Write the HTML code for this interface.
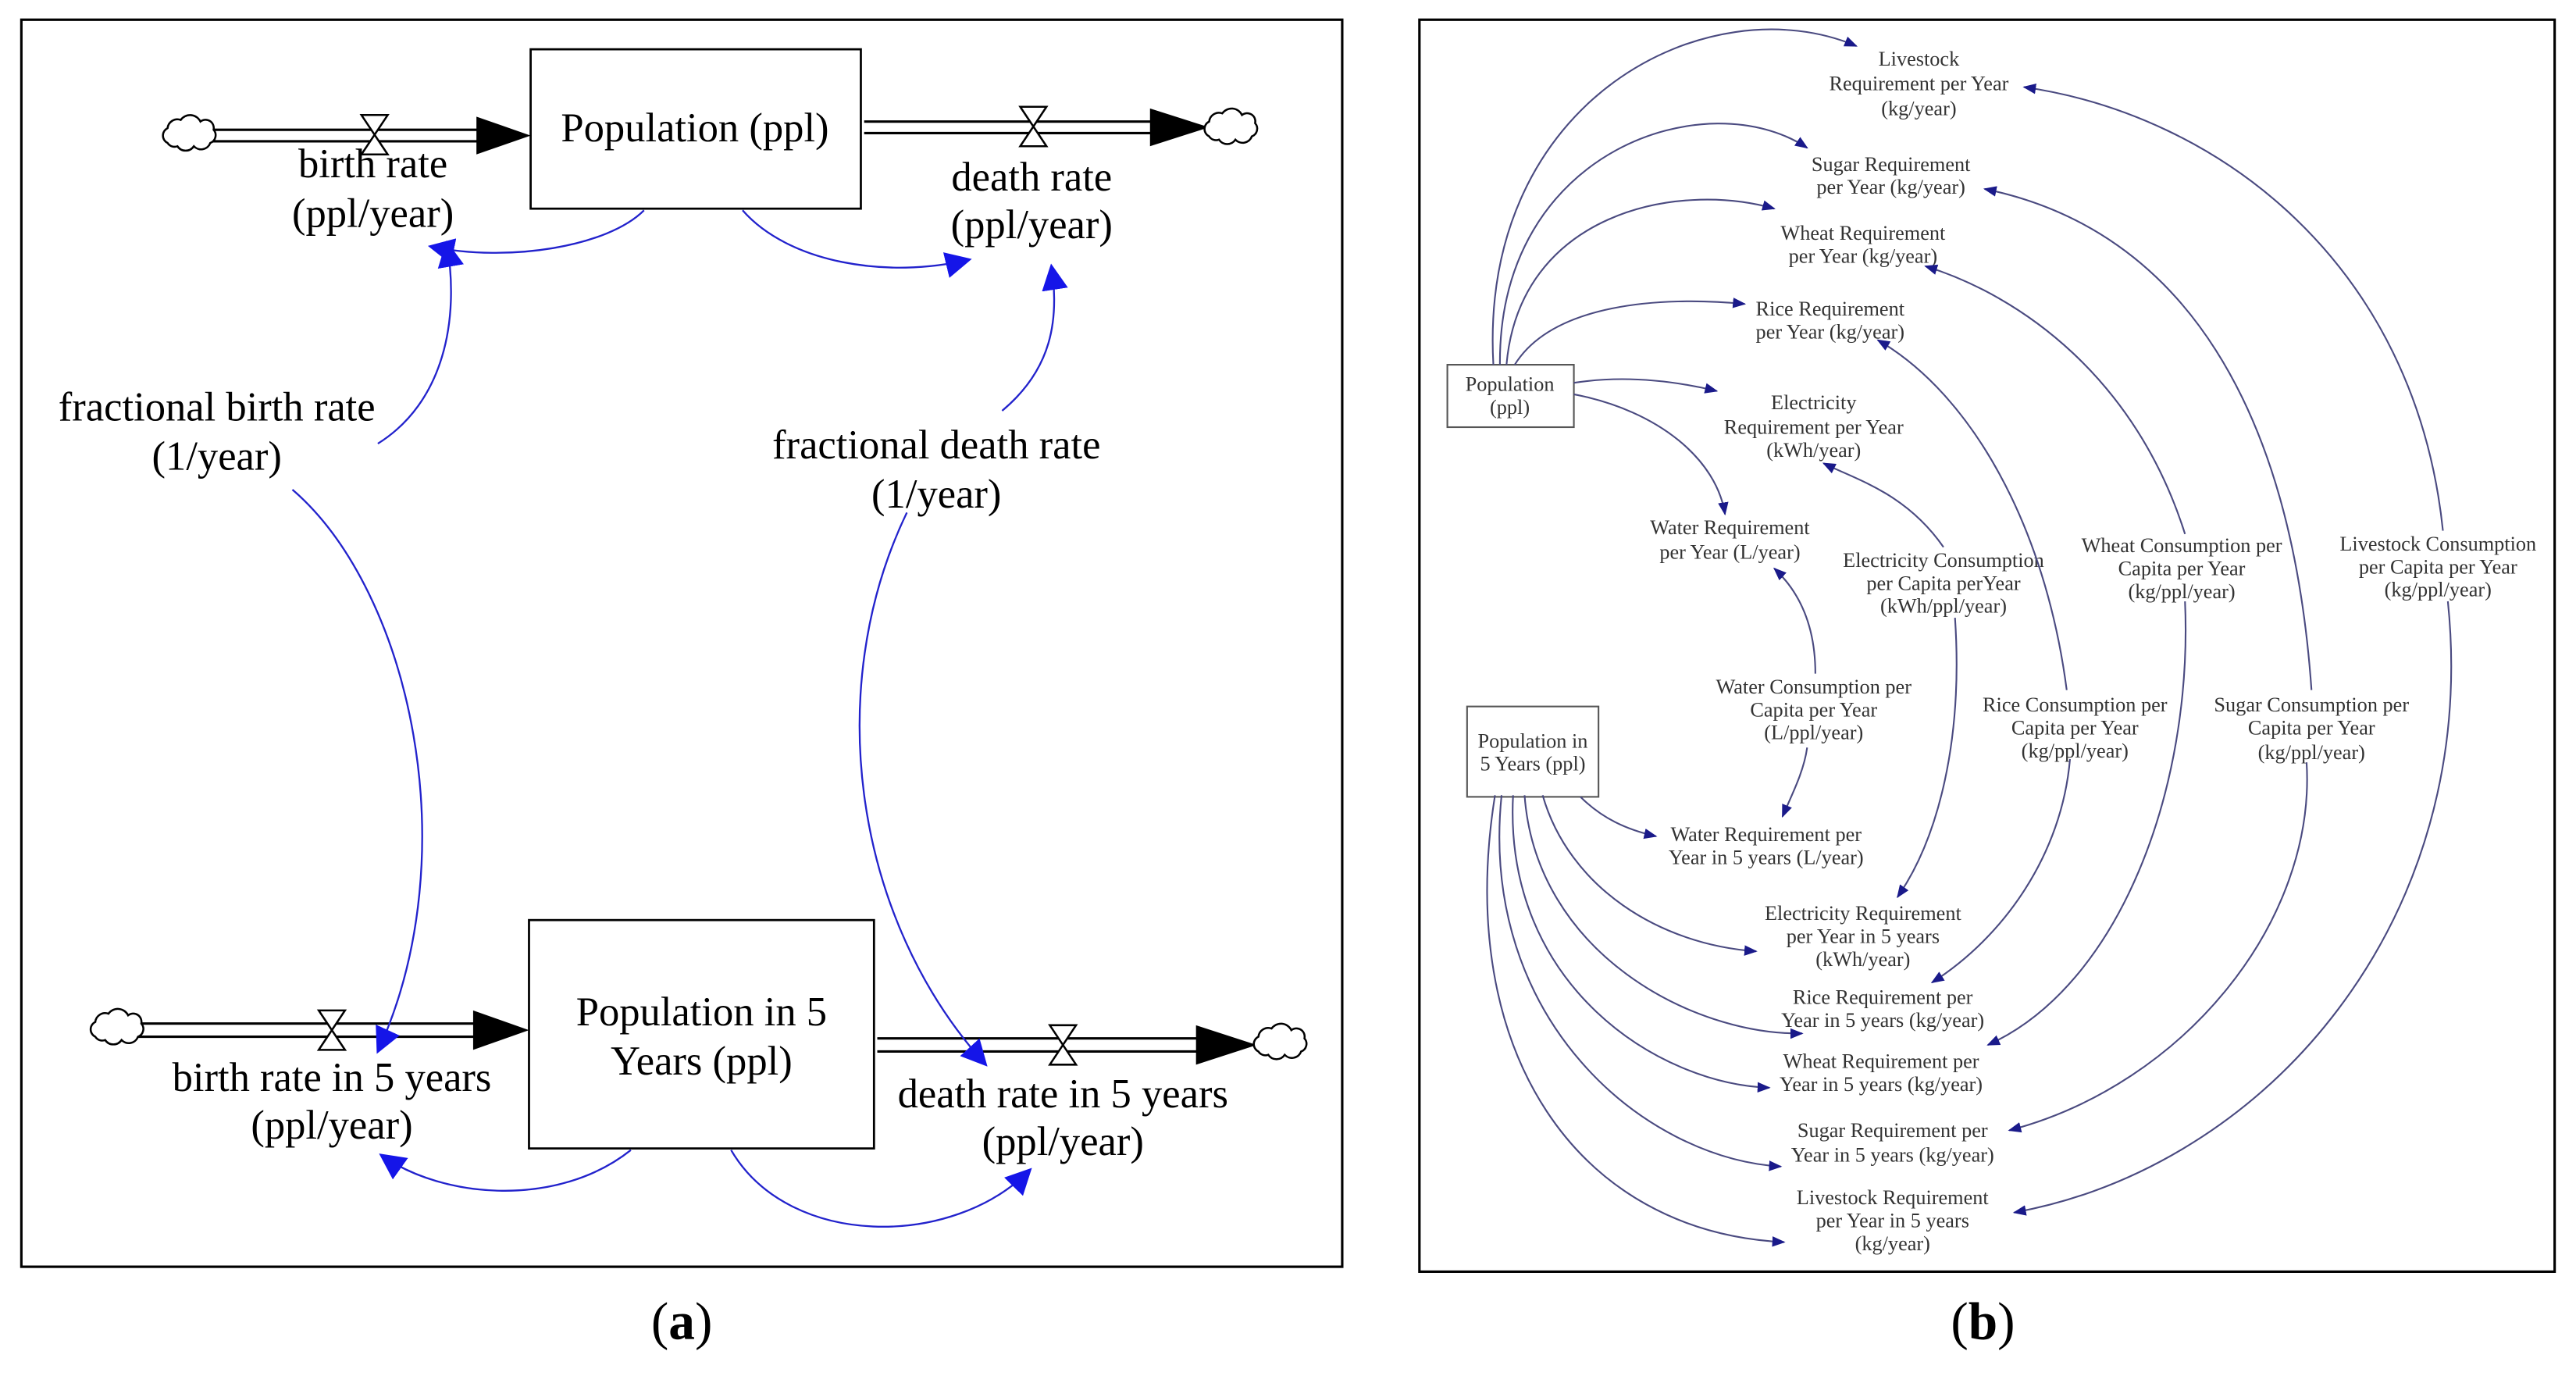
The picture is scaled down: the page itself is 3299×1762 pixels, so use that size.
<!DOCTYPE html>
<html><head><meta charset="utf-8"><style>
html,body{margin:0;padding:0;background:#fff;}
svg{display:block;}
</style></head><body>
<svg width="3299" height="1762" viewBox="0 0 1568 837.5" preserveAspectRatio="none" xmlns="http://www.w3.org/2000/svg" font-family="Liberation Serif, serif">
<defs>
<marker id="ab" viewBox="0 0 10 10" refX="9" refY="5" markerWidth="16" markerHeight="16" markerUnits="userSpaceOnUse" orient="auto"><path d="M0,0 L10,5 L0,10 z" fill="#1515e8"/></marker>
<marker id="an" viewBox="0 0 10 10" refX="9" refY="5" markerWidth="8" markerHeight="8" markerUnits="userSpaceOnUse" orient="auto"><path d="M0,1 L10,5 L0,9 z" fill="#1a1a8a"/></marker>
<g id="cloud"><path d="M-14,4 a5,5 0 0 1 0,-9 a6,6 0 0 1 8,-5 a7,7 0 0 1 12,1 a5,5 0 0 1 8,5 a5,5 0 0 1 -2,8 a6,6 0 0 1 -10,2 a6,6 0 0 1 -10,0 a5,5 0 0 1 -6,-2z" fill="#fff" stroke="#000" stroke-width="1.2"/></g>
<g id="valve"><path d="M-8,-12 L8,-12 L-8,12 L8,12 Z" fill="#fff" stroke="#000" stroke-width="1.2"/></g>
</defs>
<rect width="1568" height="837.5" fill="#fff"/>

<!-- Panel a -->
<rect x="13" y="12" width="804" height="759" fill="none" stroke="#000" stroke-width="1.5"/>
<rect x="323" y="30" width="201" height="97" fill="#fff" stroke="#000" stroke-width="1.3"/>
<rect x="322" y="560" width="210" height="139" fill="#fff" stroke="#000" stroke-width="1.3"/>
<g font-size="25" text-anchor="middle" fill="#000">
<text x="423" y="86">Population (ppl)</text>
<text x="427" y="624">Population in 5</text>
<text x="427" y="654">Years (ppl)</text>
</g>
<g stroke="#000" stroke-width="1.5">
<line x1="128" y1="79" x2="292" y2="79"/><line x1="128" y1="86" x2="292" y2="86"/>
<line x1="526" y1="74" x2="702" y2="74"/><line x1="526" y1="81" x2="702" y2="81"/>
<line x1="84" y1="623" x2="290" y2="623"/><line x1="84" y1="631" x2="290" y2="631"/>
<line x1="534" y1="632" x2="730" y2="632"/><line x1="534" y1="640" x2="730" y2="640"/>
</g>
<path d="M290,71 L323,82.5 L290,94Z" fill="#000"/>
<path d="M700,66 L736,77.5 L700,89Z" fill="#000"/>
<path d="M288,615 L322,627 L288,639Z" fill="#000"/>
<path d="M728,624 L765,636 L728,648Z" fill="#000"/>
<use href="#cloud" x="116" y="83"/>
<use href="#cloud" x="750" y="79"/>
<use href="#cloud" x="72" y="627"/>
<use href="#cloud" x="780" y="636"/>
<use href="#valve" x="228" y="82"/>
<use href="#valve" x="629" y="77"/>
<use href="#valve" x="202" y="627"/>
<use href="#valve" x="647" y="636"/>
<g font-size="25" text-anchor="middle" fill="#000">
<text x="227" y="108">birth rate</text><text x="227" y="138">(ppl/year)</text>
<text x="628" y="116">death rate</text><text x="628" y="145">(ppl/year)</text>
<text x="132" y="256">fractional birth rate</text><text x="132" y="286">(1/year)</text>
<text x="570" y="279">fractional death rate</text><text x="570" y="309">(1/year)</text>
<text x="202" y="664">birth rate in 5 years</text><text x="202" y="693">(ppl/year)</text>
<text x="647" y="674">death rate in 5 years</text><text x="647" y="703">(ppl/year)</text>
</g>
<g fill="none" stroke="#2222cc" stroke-width="1.1" marker-end="url(#ab)">
<path d="M392,128 C370,150 310,160 262,150"/>
<path d="M452,128 C480,160 540,170 590,158"/>
<path d="M230,270 C270,245 280,195 272,148"/>
<path d="M610,250 C640,225 645,195 640,162"/>
<path d="M178,298 C250,360 285,520 230,640"/>
<path d="M552,312 C500,420 520,560 600,648"/>
<path d="M384,700 C340,735 270,730 232,703"/>
<path d="M445,700 C480,760 580,760 627,712"/>
</g>
<text x="415" y="815" font-size="32" text-anchor="middle">(<tspan font-weight="bold">a</tspan>)</text>

<!-- Panel b -->
<rect x="864" y="12" width="691" height="762" fill="none" stroke="#000" stroke-width="1.5"/>
<rect x="881" y="222" width="77" height="38" fill="#fff" stroke="#555" stroke-width="1"/>
<rect x="893" y="430" width="80" height="55" fill="#fff" stroke="#555" stroke-width="1"/>
<g font-size="12.5" text-anchor="middle" fill="#333">
<text x="919" y="238">Population</text><text x="919" y="252">(ppl)</text>
<text x="933" y="455">Population in</text><text x="933" y="469">5 Years (ppl)</text>
<text x="1168" y="40">Livestock</text><text x="1168" y="55">Requirement per Year</text><text x="1168" y="70">(kg/year)</text>
<text x="1151" y="104">Sugar Requirement</text><text x="1151" y="118">per Year (kg/year)</text>
<text x="1134" y="146">Wheat Requirement</text><text x="1134" y="160">per Year (kg/year)</text>
<text x="1114" y="192">Rice Requirement</text><text x="1114" y="206">per Year (kg/year)</text>
<text x="1104" y="249">Electricity</text><text x="1104" y="264">Requirement per Year</text><text x="1104" y="278">(kWh/year)</text>
<text x="1053" y="325">Water Requirement</text><text x="1053" y="340">per Year (L/year)</text>
<text x="1183" y="345">Electricity Consumption</text><text x="1183" y="359">per Capita perYear</text><text x="1183" y="373">(kWh/ppl/year)</text>
<text x="1328" y="336">Wheat Consumption per</text><text x="1328" y="350">Capita per Year</text><text x="1328" y="364">(kg/ppl/year)</text>
<text x="1484" y="335">Livestock Consumption</text><text x="1484" y="349">per Capita per Year</text><text x="1484" y="363">(kg/ppl/year)</text>
<text x="1104" y="422">Water Consumption per</text><text x="1104" y="436">Capita per Year</text><text x="1104" y="450">(L/ppl/year)</text>
<text x="1263" y="433">Rice Consumption per</text><text x="1263" y="447">Capita per Year</text><text x="1263" y="461">(kg/ppl/year)</text>
<text x="1407" y="433">Sugar Consumption per</text><text x="1407" y="447">Capita per Year</text><text x="1407" y="462">(kg/ppl/year)</text>
<text x="1075" y="512">Water Requirement per</text><text x="1075" y="526">Year in 5 years (L/year)</text>
<text x="1134" y="560">Electricity Requirement</text><text x="1134" y="574">per Year in 5 years</text><text x="1134" y="588">(kWh/year)</text>
<text x="1146" y="611">Rice Requirement per</text><text x="1146" y="625">Year in 5 years (kg/year)</text>
<text x="1145" y="650">Wheat Requirement per</text><text x="1145" y="664">Year in 5 years (kg/year)</text>
<text x="1152" y="692">Sugar Requirement per</text><text x="1152" y="707">Year in 5 years (kg/year)</text>
<text x="1152" y="733">Livestock Requirement</text><text x="1152" y="747">per Year in 5 years</text><text x="1152" y="761">(kg/year)</text>
</g>
<g fill="none" stroke="#4a4a80" stroke-width="1" marker-end="url(#an)">
<path d="M909,222 C900,60 1040,-10 1130,28"/>
<path d="M913,222 C912,90 1040,50 1100,90"/>
<path d="M917,222 C925,130 1020,110 1080,127"/>
<path d="M922,222 C945,185 1010,180 1062,185"/>
<path d="M958,233 C990,228 1020,232 1045,238"/>
<path d="M958,240 C1010,250 1045,280 1050,313"/>
<path d="M1487,323 C1470,160 1350,70 1232,53"/>
<path d="M1407,420 C1395,250 1330,140 1208,115"/>
<path d="M1330,325 C1300,230 1230,180 1172,162"/>
<path d="M1258,420 C1245,320 1200,240 1143,207"/>
<path d="M1183,333 C1160,300 1130,292 1110,282"/>
<path d="M1105,410 C1105,380 1095,360 1080,346"/>
<path d="M1100,455 C1098,470 1090,485 1085,497"/>
<path d="M1190,376 C1195,450 1180,510 1155,546"/>
<path d="M1260,462 C1255,520 1220,570 1176,598"/>
<path d="M1330,366 C1335,480 1290,600 1210,636"/>
<path d="M1404,464 C1410,560 1330,660 1223,688"/>
<path d="M1490,366 C1510,560 1380,710 1226,738"/>
<path d="M962,485 C975,498 990,505 1008,509"/>
<path d="M939,484 C955,540 1010,575 1069,579"/>
<path d="M928,484 C935,580 1030,630 1097,629"/>
<path d="M921,484 C915,600 1010,660 1077,662"/>
<path d="M914,484 C900,620 1000,705 1084,710"/>
<path d="M910,484 C885,640 960,750 1086,756"/>
</g>
<text x="1207" y="815" font-size="32" text-anchor="middle">(<tspan font-weight="bold">b</tspan>)</text>
</svg>
</body></html>
